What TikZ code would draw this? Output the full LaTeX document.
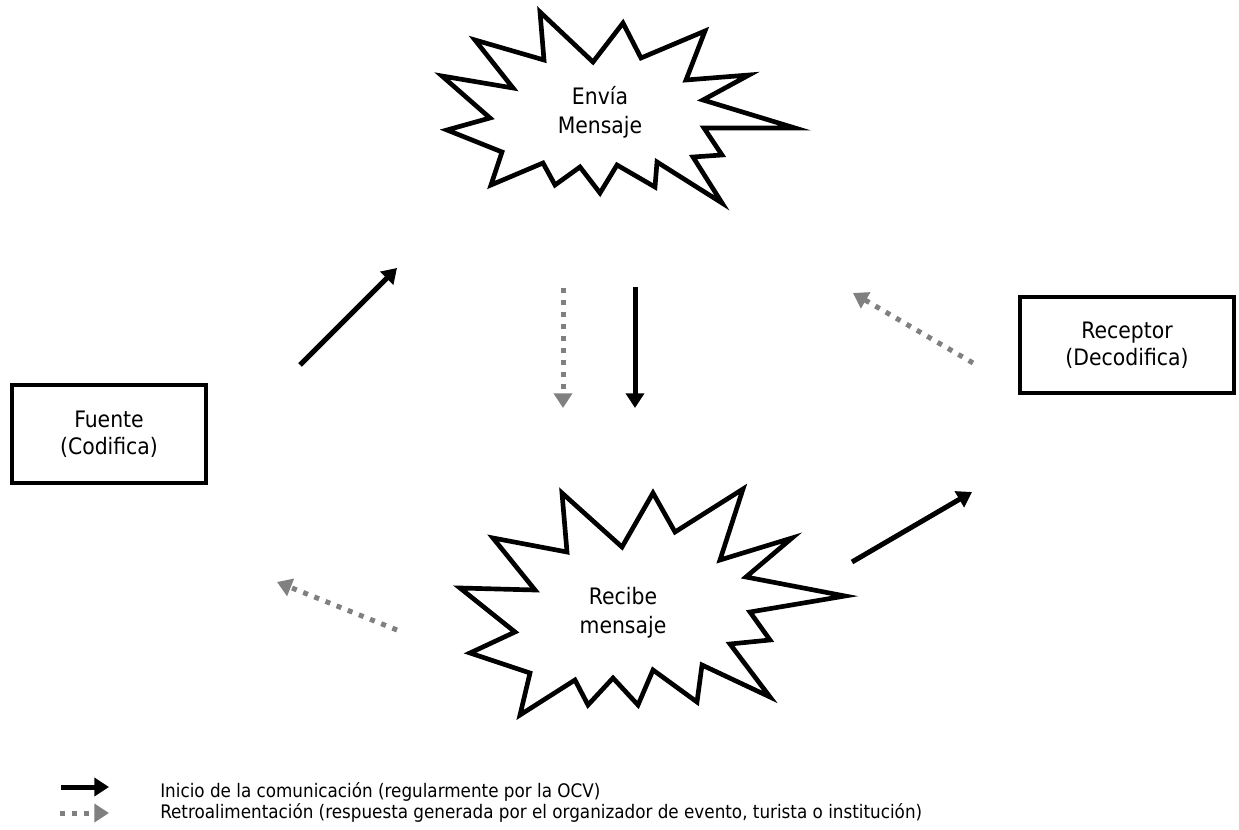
\documentclass[tikz,border=0pt]{standalone}
\usepackage{fontspec}
\setmainfont{DejaVu Sans Condensed}
\usepackage{tikz}
\usetikzlibrary{arrows.meta}

\begin{document}
\begin{tikzpicture}[
    x=0.75pt, y=-0.75pt,
    box/.style={rectangle, draw=black, line width=3.5pt, align=center, font=\fontsize{17}{20.5}\selectfont},
    burst/.style={draw=black, line width=3.5pt, line join=miter, fill=white},
    label/.style={align=center, inner sep=0pt, font=\fontsize{17}{21.5}\selectfont},
    line/.style={draw=black, line width=3.75pt, -{Triangle[length=11pt,width=13.5pt]}},
    feedback/.style={draw=black!50, line width=3.75pt, dash pattern=on 3.75pt off 5.25pt, -{Triangle[length=11pt,width=13.5pt]}},
    legend/.style={anchor=west, inner sep=0pt, font=\fontsize{14}{16}\selectfont}
]
    \useasboundingbox (0,0) rectangle (1239,830);

    % senders and receivers
    \node [box, minimum width=145.5pt, minimum height=73.5pt] (fuente) at (109,434) {Fuente\\(Codifica)};
    \node [box, minimum width=160.5pt, minimum height=72pt] (receptor) at (1127,345) {Receptor\\(Decodifica)};

    % the two bursts
    \draw [burst] (540,12) -- (593,62) -- (623,23) -- (641,58) -- (705,31) -- (686,80)
        -- (749,75) -- (703,100) -- (795,128) -- (704,128) -- (722,155) -- (693,157)
        -- (722,203) -- (657,162) -- (655,187) -- (617,165) -- (600,193) -- (580,167)
        -- (555,185) -- (543,163) -- (491,185) -- (502,152) -- (447,130) -- (490,118)
        -- (442,76) -- (513,88) -- (475,40) -- (544,60) -- cycle;
    \node [label] (envia) at (600,112) {Envía\\Mensaje};

    \draw [burst] (562,493) -- (622,547) -- (653,493) -- (675,532) -- (743,489) -- (720,560)
        -- (792,538) -- (746,577) -- (845,596) -- (750,612) -- (770,640) -- (730,644)
        -- (770,697) -- (702,665) -- (697,702) -- (653,670) -- (638,705) -- (613,678)
        -- (588,705) -- (575,680) -- (520,715) -- (530,673) -- (470,653) -- (515,632)
        -- (460,588) -- (535,590) -- (493,538) -- (567,552) -- cycle;
    \node [label] (recibe) at (623,613) {Recibe\\mensaje};

    % arrow ends
    \coordinate (f1) at (300,365);  \coordinate (f2) at (397,268);
    \coordinate (m1) at (635,287);  \coordinate (m2) at (635,408);
    \coordinate (g1) at (563,288);  \coordinate (g2) at (563,408);
    \coordinate (r1) at (852,562);  \coordinate (r2) at (972,492);
    \coordinate (d1) at (973,363);  \coordinate (d2) at (853,293);
    \coordinate (b1) at (397,630);  \coordinate (b2) at (277,582);

    \path [line] (f1) -- (f2);
    \path [line] (m1) -- (m2);
    \path [line] (r1) -- (r2);
    \path [feedback] (g1) -- (g2);
    \path [feedback] (d1) -- (d2);
    \path [feedback] (b1) -- (b2);

    % legend
    \coordinate (l1) at (61,787);  \coordinate (l2) at (109,787);
    \coordinate (l3) at (60,813);  \coordinate (l4) at (109,813);
    \path [line] (l1) -- (l2);
    \path [feedback] (l3) -- (l4);
    \node [legend] (inicio) at (160,792) {Inicio de la comunicación (regularmente por la OCV)};
    \node [legend] (retro) at (160,813) {Retroalimentación (respuesta generada por el organizador de evento, turista o institución)};
\end{tikzpicture}
\end{document}
